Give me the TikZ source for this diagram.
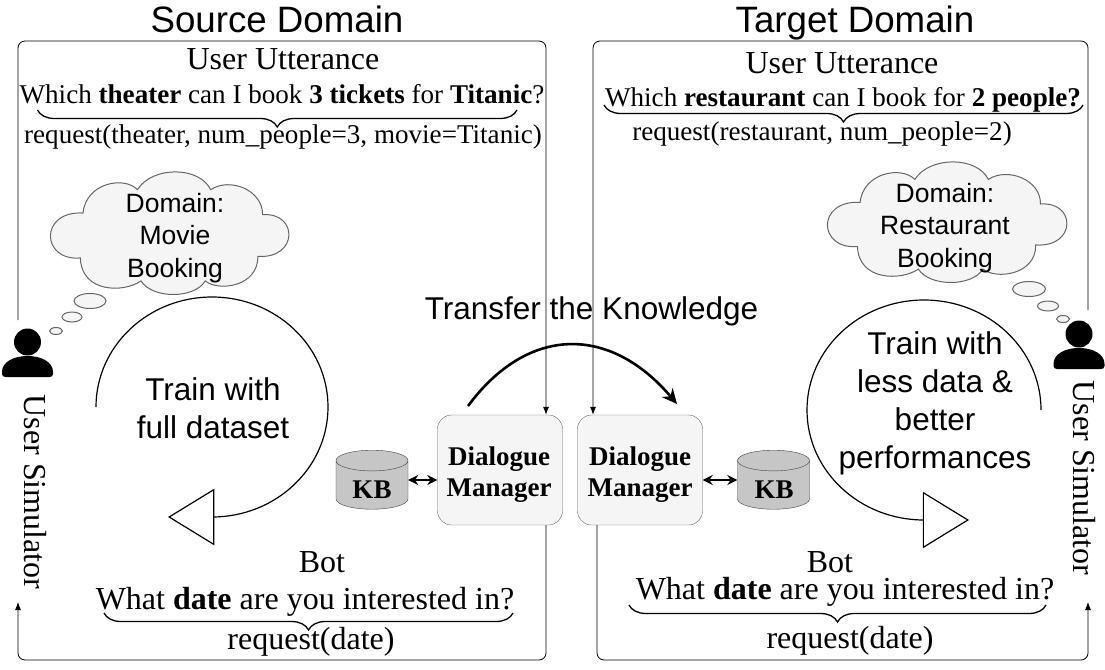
\documentclass[tikz,border=0pt]{standalone}
\usepackage{fontspec}
\setmainfont{Liberation Serif}
\setsansfont{Liberation Sans}
\usetikzlibrary{arrows.meta,shapes.geometric,decorations.pathreplacing}
\definecolor{panelgray}{HTML}{F5F5F5}
\definecolor{edgegray}{HTML}{666666}
\definecolor{storegray}{HTML}{C6C6C6}

\begin{document}
\begin{tikzpicture}[x=1pt,y=-1pt,>={Latex[length=8pt,width=6pt]}]
  \tikzset{
    caption/.style={font=\sffamily\fontsize{36.7}{38}\selectfont,anchor=base,inner sep=0pt},
    sanslabel/.style={font=\sffamily\fontsize{31.5}{38}\selectfont,align=center,inner sep=0pt},
    cloudlabel/.style={font=\sffamily\fontsize{26.5}{32.5}\selectfont,align=center,inner sep=0pt},
    serif/.style={font=\fontsize{32}{34}\selectfont,anchor=base,inner sep=0pt},
    simlabel/.style={font=\fontsize{32}{34}\selectfont,inner sep=0pt,rotate=-90},
    speech/.style={font=\fontsize{27.1}{30}\selectfont,anchor=base,inner sep=0pt},
    reply/.style={font=\fontsize{32}{34}\selectfont,anchor=base,inner sep=0pt},
    manager/.style={draw=edgegray,fill=panelgray,rounded corners=14pt,minimum width=125pt,minimum height=110pt},
    boldlabel/.style={align=center,inner sep=0pt,font=\bfseries\fontsize{27}{31}\selectfont},
    kbstore/.style={cylinder,shape border rotate=90,aspect=.55,draw=black!75,fill=storegray,minimum width=72pt,minimum height=59pt,inner sep=0pt,font=\bfseries\fontsize{26}{28}\selectfont},
    turnhead/.style={isosceles triangle,isosceles triangle apex angle=63,draw,fill=white,line width=1.2pt,minimum height=44.5pt,inner sep=0pt},
    flow/.style={->,line width=.8pt,rounded corners=7pt},
    lookup/.style={<->,line width=1.5pt,>={Stealth[length=10pt,width=10pt]}},
    turn/.style={line width=1.2pt},
    curly/.style={decorate,decoration={brace,mirror,amplitude=17pt,aspect=.5},line width=1.3pt},
    puff/.style={draw=edgegray,fill=panelgray,line width=1pt},
    pics/cloudbody/.style 2 args={code={
      \draw[puff,x=#1,y=#2] (.127,.339) .. controls (.14,.09) and (.30,.03) .. (.358,.146)
        .. controls (.42,-.05) and (.62,-.05) .. (.668,.146)
        .. controls (.75,.04) and (.89,.15) .. (.888,.353)
        .. controls (1.04,.33) and (1.04,.72) .. (.868,.697)
        .. controls (.87,.95) and (.70,.99) .. (.645,.90)
        .. controls (.60,1.05) and (.42,1.05) .. (.373,.90)
        .. controls (.30,1.0) and (.12,1.0) .. (.116,.71)
        .. controls (-.05,.74) and (-.06,.32) .. cycle;
    }},
    pics/usericon/.style={code={
      \fill (0,0) circle[radius=13.5pt];
      \fill (-25.5,30) .. controls (-25.5,20) and (-14,14) .. (0,14)
        .. controls (14,14) and (25.5,20) .. (25.5,30)
        -- (25.5,32) .. controls (25.5,34) and (24,35) .. (22,35)
        -- (-22,35) .. controls (-24,35) and (-25.5,34) .. (-25.5,32) -- cycle;
    }}
  }
  \useasboundingbox (0,0) rectangle (1105,669);

  % domain titles
  \node[caption] (srctitle) at (277,33) {Source Domain};
  \node[caption] (tgttitle) at (855,33) {Target Domain};

  % dialogue managers and knowledge bases
  \node[manager] (dmsrc) at (500,470) {};
  \node[manager] (dmtgt) at (640,470) {};
  \node[boldlabel] (dmsrctext) at (499,474.5) {Dialogue\\Manager};
  \node[boldlabel] (dmtgttext) at (640,474.5) {Dialogue\\Manager};
  \node[kbstore] (kbsrc) at (372,485) {\phantom{KB}};
  \node[kbstore] (kbtgt) at (773.5,485) {\phantom{KB}};
  \node[boldlabel] (kbsrctext) at (372,490) {KB};
  \node[boldlabel] (kbtgttext) at (774,490) {KB};
  \coordinate (lookuprow) at (0,480);
  \draw[lookup] (lookuprow -| kbsrc.east) -- (lookuprow -| dmsrc.west);
  \draw[lookup] (lookuprow -| dmtgt.east) -- (lookuprow -| kbtgt.west);

  % source side text
  \node[serif] (srcuser) at (283,70) {User Utterance};
  \node[speech] (srcask) at (282,103) {Which \textbf{theater} can I book \textbf{3 tickets} for \textbf{Titanic}?};
  \node[speech] (srcact) at (283,143) {request(theater, num\_people=3, movie=Titanic)};
  \node[serif] (srcbot) at (322,572) {Bot};
  \node[reply] (srcreply) at (305,609) {What \textbf{date} are you interested in?};
  \node[reply] (srcreq) at (311,649) {request(date)};
  \draw[curly] (37.5,110) -- (517,110);
  \draw[curly] (104,613) -- (513,613);

  % target side text
  \node[serif] (tgtuser) at (842,74) {User Utterance};
  \node[speech] (tgtask) at (843,106) {Which \textbf{restaurant} can I book for \textbf{2 people?}};
  \node[speech] (tgtact) at (822,140) {request(restaurant, num\_people=2)};
  \node[serif] (tgtbot) at (830,572) {Bot};
  \node[reply] (tgtreply) at (845,599) {What \textbf{date} are you interested in?};
  \node[reply] (tgtreq) at (850,648) {request(date)};
  \draw[curly] (604,105) -- (1083,105);
  \draw[curly] (629,605) -- (1046,605);

  % thought clouds
  \pic at (53,172) {cloudbody={236pt}{-121pt}};
  \pic at (830,162) {cloudbody={237pt}{-119pt}};
  \node[cloudlabel] (srcdomain) at (175,238) {Domain:\\Movie\\Booking};
  \node[cloudlabel] (tgtdomain) at (945,228) {Domain:\\Restaurant\\Booking};
  \draw[puff] (90,301) ellipse[x radius=16pt,y radius=7.5pt];
  \draw[puff] (72,317) ellipse[x radius=10pt,y radius=5pt];
  \draw[puff] (56,331) ellipse[x radius=6.5pt,y radius=3.5pt];
  \draw[puff] (1029,289) ellipse[x radius=16.5pt,y radius=7.5pt];
  \draw[puff] (1048,306) ellipse[x radius=10.5pt,y radius=5pt];
  \draw[puff] (1063,319) ellipse[x radius=6.5pt,y radius=3.5pt];

  % training loops
  \coordinate (loopsrc) at (96,407);
  \coordinate (looptgt) at (1041,410);
  \draw[turn] (loopsrc) arc[start angle=180,end angle=-90,x radius=116pt,y radius=110pt];
  \draw[turn] (looptgt) arc[start angle=0,end angle=270,x radius=117pt,y radius=110pt];
  \node[turnhead,shape border rotate=180,anchor=apex] (headsrc) at (168,517) {};
  \node[turnhead,anchor=apex] (headtgt) at (969,520) {};
  \node[sanslabel] (srctrain) at (213,408) {Train with\\full dataset};
  \node[sanslabel] (tgttrain) at (935,403) {Train with\\less data \&\\better\\performances};

  % users
  \pic at (27.5,342) {usericon};
  \pic at (1079,334) {usericon};
  \node[simlabel] (srcsim) at (35.5,492) {User Simulator};
  \node[simlabel] (tgtsim) at (1084,478) {User Simulator};

  % message flow around the panels
  \coordinate (srcstart) at (18,320);
  \coordinate (srcturn) at (546,41);
  \coordinate (tgtstart) at (1088,310);
  \coordinate (tgtturn) at (593,41);
  \coordinate (srcend) at (18,602);
  \coordinate (tgtend) at (1088,602);
  \coordinate (srcdown) at (546,660);
  \coordinate (tgtdown) at (597,660);
  \draw[flow] (srcstart) |- (srcturn) -- (srcturn |- dmsrc.north);
  \draw[flow] (tgtstart) |- (tgtturn) -- (tgtturn |- dmtgt.north);
  \draw[flow] (srcdown |- dmsrc.south) -- (srcdown) -| (srcend);
  \draw[flow] (tgtdown |- dmtgt.south) -- (tgtdown) -| (tgtend);

  % knowledge transfer
  \node[sanslabel] (transfer) at (591.5,311) {Transfer the Knowledge};
  \coordinate (bendfrom) at (468,406);
  \coordinate (bendto) at (677,404);
  \draw[->,line width=2.6pt,>={Stealth[length=15pt,width=14pt]}] (bendfrom) .. controls (528,325) and (610,325) .. (bendto);
\end{tikzpicture}
\end{document}
